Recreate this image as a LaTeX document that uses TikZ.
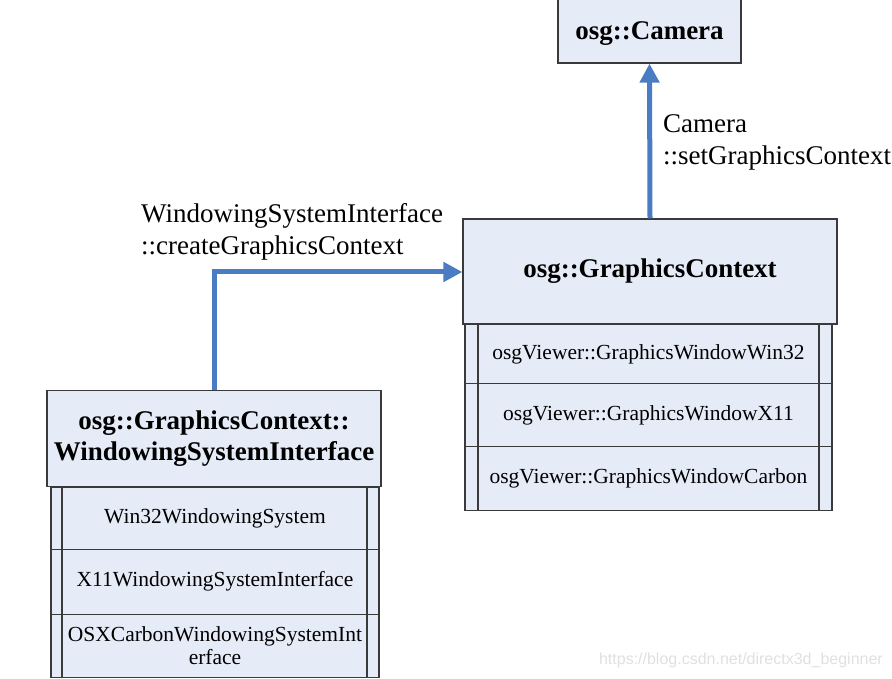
\documentclass[tikz,border=0pt]{standalone}
\usepackage{fontspec}
\setmainfont{Liberation Serif}
\newfontfamily\wmfont{Liberation Sans}
\usetikzlibrary{arrows.meta}
\definecolor{boxfill}{HTML}{E6ECF7}
\definecolor{boxline}{HTML}{3A3A3A}
\definecolor{flow}{HTML}{4A7CC4}
\tikzset{
  x=1pt, y=-1pt,
  classbox/.style={draw=boxline, fill=boxfill, line width=1.2pt, inner sep=0pt,
    align=center, font=\fontsize{27}{31}\selectfont\bfseries},
  rowbox/.style={draw=boxline, fill=boxfill, line width=1.1pt, inner sep=0pt,
    align=center, font=\fontsize{21.5}{22.5}\selectfont},
  divider/.style={draw=boxline, line width=1.1pt},
  flowarrow/.style={draw=flow, line width=5pt,
    -{Triangle[width=19pt,length=19pt]}},
  calllabel/.style={align=left, anchor=west, inner sep=0pt,
    font=\fontsize{27}{32}\selectfont},
}
\begin{document}
\begin{tikzpicture}
\useasboundingbox (0,0) rectangle (892,679);
\begin{scope}
\clip (0,0) rectangle (892,679);

% osg::Camera (top edge runs off the page)
\node[classbox, minimum width=183pt, minimum height=73pt] (camera) at (649.5,26.5) {};
\node[font=\fontsize{27}{31}\selectfont\bfseries] (cameratxt) at (649.5,34) {osg::Camera};

% osg::GraphicsContext with its window implementations
\node[classbox, minimum width=374pt, minimum height=105pt] (gc) at (650,271.5) {osg::GraphicsContext};
\node[rowbox, minimum width=367pt, minimum height=59pt, anchor=north] (gcw32) at (648.5,324) {osgViewer::GraphicsWindowWin32};
\node[rowbox, minimum width=367pt, minimum height=63pt, anchor=north] (gcx11) at (648.5,383) {osgViewer::GraphicsWindowX11};
\node[rowbox, minimum width=367pt, minimum height=64pt, anchor=north] (gccarbon) at (648.5,446) {osgViewer::GraphicsWindowCarbon};
\draw[divider] (478,324) -- (478,510);
\draw[divider] (819,324) -- (819,510);

% osg::GraphicsContext::WindowingSystemInterface with its platform classes
\node[classbox, minimum width=334pt, minimum height=96pt] (wsi) at (214,438.5) {osg::GraphicsContext::\\WindowingSystemInterface};
\node[rowbox, minimum width=328pt, minimum height=62pt, anchor=north] (wsiw32) at (215,486.5) {Win32WindowingSystem};
\node[rowbox, minimum width=328pt, minimum height=65pt, anchor=north] (wsix11) at (215,548.5) {X11WindowingSystemInterface};
\node[rowbox, minimum width=328pt, minimum height=63pt, anchor=north] (wsiosx) at (215,613.5) {OSXCarbonWindowingSystemInt\\erface};
\draw[divider] (62,486.5) -- (62,676.5);
\draw[divider] (367,486.5) -- (367,676.5);

% calls between the classes
\coordinate (bend) at (214,272);
\draw[flowarrow] (wsi.north -| bend) -- (bend) -- (gc.west |- bend);
\draw[flowarrow] (gc.north) -- (camera.south);

\node[calllabel] (createlbl) at (141,232) {WindowingSystemInterface\\::createGraphicsContext};
\node[calllabel] (setlbl) at (663,142) {Camera\\::setGraphicsContext};

% blog address
\node[font=\wmfont\fontsize{16}{18}\selectfont, text=black!12, anchor=east, inner sep=0pt] (blog) at (883,660) {https://blog.csdn.net/directx3d\_beginner};
\end{scope}
\end{tikzpicture}
\end{document}
